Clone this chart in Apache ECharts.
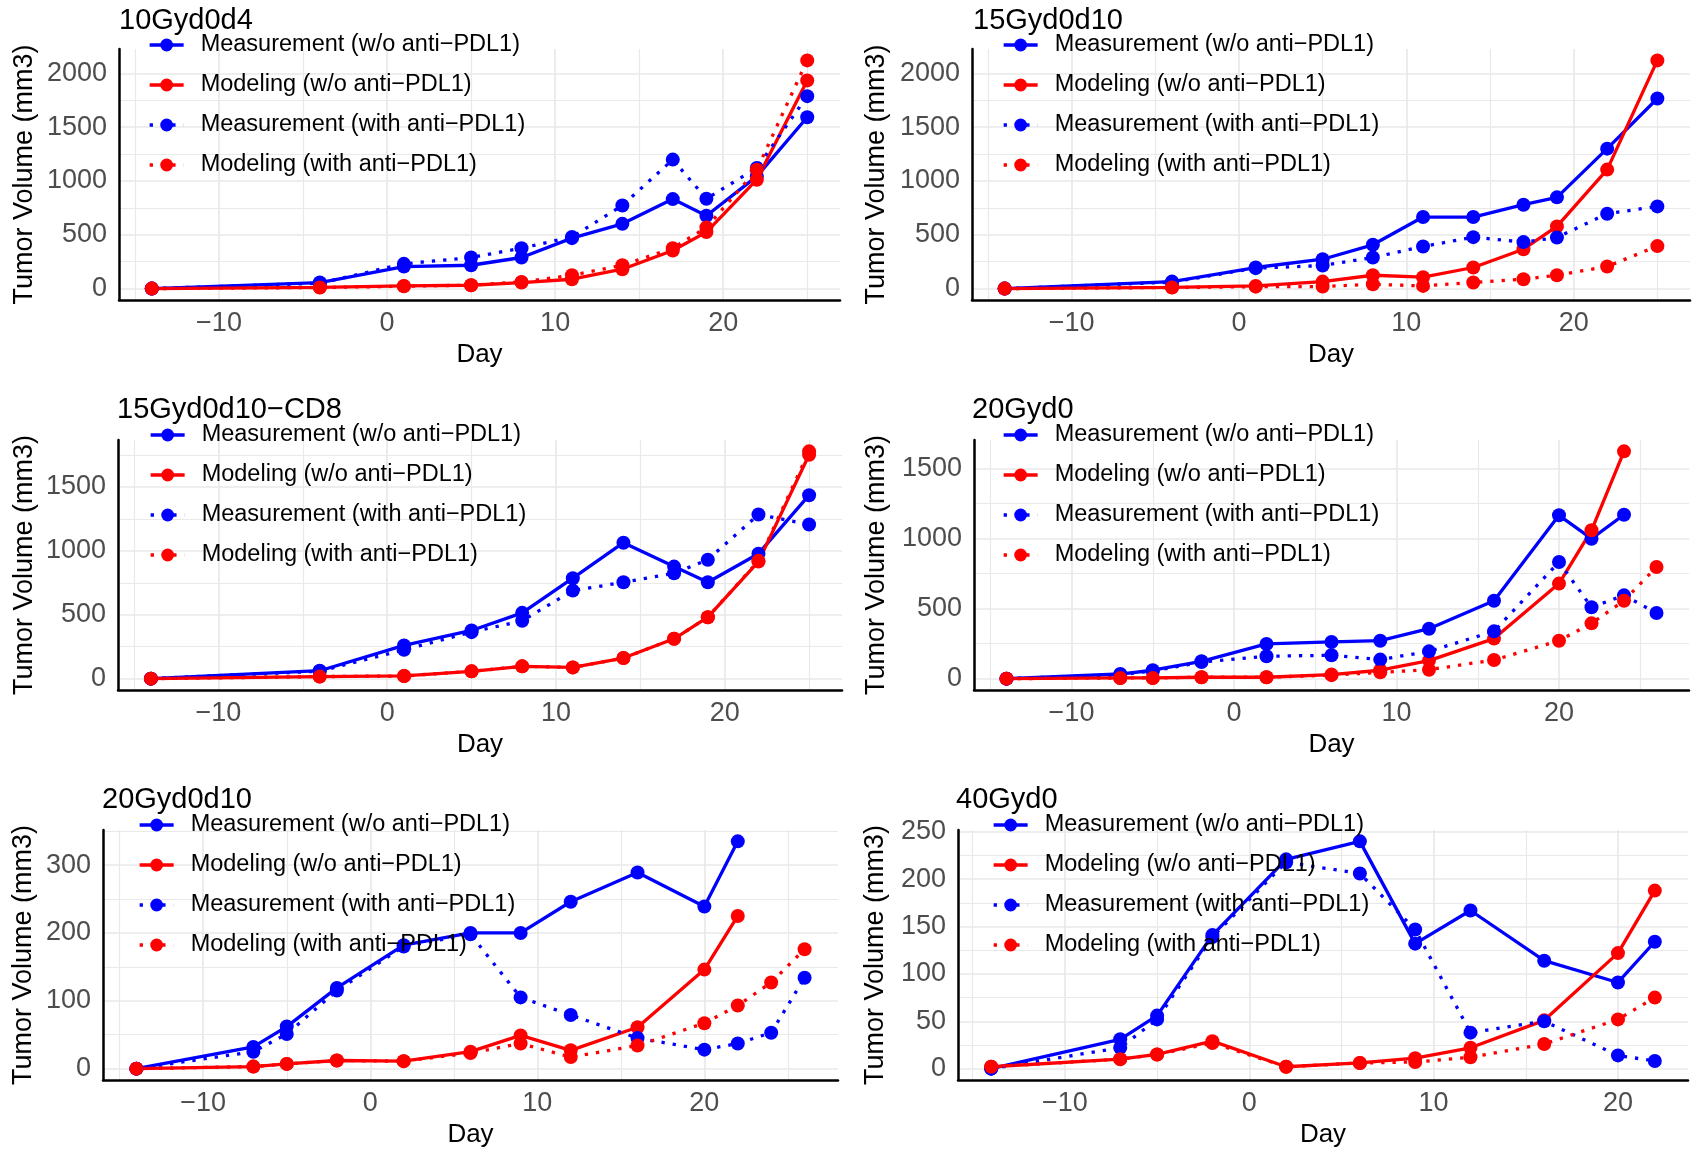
<!DOCTYPE html>
<html>
<head>
<meta charset="utf-8">
<title>Tumor volume panels</title>
<script src="https://cdn.jsdelivr.net/npm/echarts@6/dist/echarts.min.js"></script>
<style>
  html, body { margin: 0; padding: 0; background: #fff; }
  #chart { width: 1702px; height: 1159px; }
</style>
</head>
<body>
<div id="chart"></div>
<script>
// series labels (legend order)
const seriesNames = [
  'Measurement (w/o anti\u2212PDL1)',
  'Modeling (w/o anti\u2212PDL1)',
  'Measurement (with anti\u2212PDL1)',
  'Modeling (with anti\u2212PDL1)'
];
const panelTitles = ['10Gyd0d4', '15Gyd0d10', '15Gyd0d10\u2212CD8', '20Gyd0', '20Gyd0d10', '40Gyd0'];

// days
const daysA = [-14, -4, 1, 5, 8, 11, 14, 17, 19, 22, 25];
const days20Gy = [-14, -7, -5, -2, 2, 6, 9, 12, 16, 20, 22, 24];
const days20GyLong = [-14, -7, -5, -2, 2, 6, 9, 12, 16, 20, 22, 24, 26];
const days20GyShort = [-14, -7, -5, -2, 2, 6, 9, 12, 16, 20, 22];
const days40Gy = [-14, -7, -5, -2, 2, 6, 9, 12, 16, 20, 22];

// 10Gyd0d4
const measWo1 = [0, 56, 205, 217, 289, 469, 602, 832, 677, 1043, 1593];
const modelWo1 = [0, 12, 25, 31, 56, 87, 180, 354, 525, 1012, 1935];
const measW1 = [0, 50, 230, 289, 376, 480, 773, 1199, 835, 1121, 1789];
const modelW1 = [0, 10, 22, 32, 62, 124, 217, 376, 568, 1105, 2121];

// 15Gyd0d10
const measWo2 = [0, 65, 196, 273, 407, 665, 665, 780, 848, 1301, 1767];
const modelWo2 = [0, 12, 25, 65, 124, 106, 196, 366, 578, 1106, 2121];
const measW2 = [0, 60, 190, 214, 289, 391, 478, 432, 475, 696, 764];
const modelW2 = [0, 10, 18, 19, 40, 25, 56, 87, 124, 205, 395];

// 15Gyd0d10-CD8
const measWo3 = [0, 62, 260, 377, 515, 786, 1064, 877, 754, 978, 1436];
const modelWo3 = [0, 16, 21, 57, 96, 88, 161, 312, 481, 916, 1753];
const measW3 = [0, 58, 226, 364, 453, 689, 754, 825, 931, 1285, 1207];
const modelW3 = [0, 16, 21, 57, 96, 88, 161, 312, 481, 922, 1779];

// 20Gyd0
const measWo4 = [0, 33, 60, 124, 248, 262, 271, 357, 557, 1167, 1000, 1171];
const modelWo4 = [0, 5, 5, 10, 10, 29, 60, 129, 286, 679, 1060, 1624];
const measW4 = [0, 28, 55, 118, 160, 167, 136, 195, 338, 833, 510, 595, 469];
const modelW4 = [0, 5, 5, 10, 10, 25, 45, 64, 133, 271, 395, 557, 798];

// 20Gyd0d10
const measWo5 = [0, 32, 62, 119, 182, 200, 200, 246, 289, 239, 335];
const modelWo5 = [0, 3, 7, 12, 11, 25, 49, 27, 61, 146, 225];
const measW5 = [0, 25, 51, 115, 180, 198, 105, 79, 45, 28, 37, 53, 134];
const modelW5 = [0, 3, 7, 12, 11, 23, 37, 17, 34, 67, 93, 127, 176];

// 40Gyd0
const measWo6 = [0, 31, 56, 141, 221, 240, 132, 167, 114, 91, 134];
const modelWo6 = [2, 10, 15, 29, 2, 6, 11, 22, 51, 122, 188];
const measW6 = [0, 22, 52, 139, 218, 206, 147, 38, 50, 14, 8];
const modelW6 = [2, 10, 15, 27, 2, 6, 7, 12, 26, 52, 75];

// tick labels
const xTicks = [-10, 0, 10, 20];
const yTicks2000 = [0, 500, 1000, 1500, 2000];
const yTicks1500 = [0, 500, 1000, 1500];
const yTicks300 = [0, 100, 200, 300];
const yTicks250 = [0, 50, 100, 150, 200, 250];

const panelSeries = [
  [[daysA, measWo1], [daysA, modelWo1], [daysA, measW1], [daysA, modelW1]],
  [[daysA, measWo2], [daysA, modelWo2], [daysA, measW2], [daysA, modelW2]],
  [[daysA, measWo3], [daysA, modelWo3], [daysA, measW3], [daysA, modelW3]],
  [[days20Gy, measWo4], [days20Gy, modelWo4], [days20GyLong, measW4], [days20GyLong, modelW4]],
  [[days20GyShort, measWo5], [days20GyShort, modelWo5], [days20GyLong, measW5], [days20GyLong, modelW5]],
  [[days40Gy, measWo6], [days40Gy, modelWo6], [days40Gy, measW6], [days40Gy, modelW6]]
];
const panelYTicks = [yTicks2000, yTicks2000, yTicks1500, yTicks1500, yTicks300, yTicks250];

// layout (pixels): grid [left, top, width, height], title [left, top], legend [left, top], y name gap
const layout = [
  { grid: [119, 49, 721, 251], title: [119, 6], legend: [148, 33], yGap: 81 },
  { grid: [972, 49, 718, 251], title: [973, 6], legend: [1002, 33], yGap: 82 },
  { grid: [118, 440, 724, 250], title: [117, 395], legend: [149, 423], yGap: 80 },
  { grid: [974, 440, 715, 250], title: [972, 395], legend: [1002, 423], yGap: 84 },
  { grid: [103, 830, 735, 250], title: [102, 785], legend: [138, 813], yGap: 66 },
  { grid: [958, 830, 730, 250], title: [956, 785], legend: [992, 813], yGap: 69 }
];

const colors = ['#0000ff', '#ff0000', '#0000ff', '#ff0000'];
const dotted = [false, false, true, true];
const font = 'Liberation Sans, Arial, sans-serif';
const minus = v => String(v).replace('-', '\u2212');

const chart = echarts.init(document.getElementById('chart'), null, { renderer: 'canvas' });

const option = {
  backgroundColor: '#ffffff',
  animation: false,
  textStyle: { fontFamily: font },
  title: [], legend: [], grid: [], xAxis: [], yAxis: [], series: []
};

panelSeries.forEach((lines, i) => {
  const lay = layout[i];
  const allDays = [].concat(...lines.map(l => l[0]));
  const allVals = [].concat(...lines.map(l => l[1]));
  // ggplot-like 5% expansion
  const dMin = Math.min(...allDays), dMax = Math.max(...allDays);
  const vMin = Math.min(...allVals), vMax = Math.max(...allVals);
  const xMin = dMin - 0.05 * (dMax - dMin), xMax = dMax + 0.05 * (dMax - dMin);
  const yMin = vMin - 0.05 * (vMax - vMin), yMax = vMax + 0.05 * (vMax - vMin);
  const yTicks = panelYTicks[i];

  option.grid.push({ left: lay.grid[0], top: lay.grid[1], width: lay.grid[2], height: lay.grid[3], containLabel: false });
  option.title.push({
    text: panelTitles[i], left: lay.title[0], top: lay.title[1], padding: 0,
    textStyle: { fontSize: 29, lineHeight: 29, fontWeight: 'normal', color: '#000', fontFamily: font }
  });
  option.legend.push({
    data: seriesNames, orient: 'vertical', left: lay.legend[0], top: lay.legend[1], padding: 0,
    itemWidth: 34, itemHeight: 16, itemGap: 16, selectedMode: false,
    lineStyle: { width: 3.3 },
    textStyle: { fontSize: 23.5, lineHeight: 24, color: '#000', fontFamily: font, padding: [0, 0, 0, 12] }
  });
  option.xAxis.push({
    type: 'value', gridIndex: i, min: xMin, max: xMax,
    name: 'Day', nameLocation: 'middle', nameGap: 42,
    nameTextStyle: { fontSize: 26, color: '#000', fontFamily: font },
    axisLine: { onZero: false, lineStyle: { color: '#000', width: 2.5 } },
    axisTick: { show: false }, splitLine: { show: false },
    axisLabel: { customValues: xTicks, formatter: minus, fontSize: 27, color: '#4d4d4d', margin: 10, fontFamily: font }
  });
  option.yAxis.push({
    type: 'value', gridIndex: i, min: yMin, max: yMax,
    name: 'Tumor Volume (mm3)', nameLocation: 'middle', nameGap: lay.yGap,
    nameTextStyle: { fontSize: 27, color: '#000', fontFamily: font },
    axisLine: { onZero: false, lineStyle: { color: '#000', width: 2.5 } },
    axisTick: { show: false }, splitLine: { show: false },
    axisLabel: { customValues: yTicks, formatter: v => String(v), fontSize: 27, color: '#4d4d4d', margin: 12, fontFamily: font }
  });

  // grid lines: majors at tick labels, minors halfway between
  const gridData = [];
  const xStep = xTicks[1] - xTicks[0];
  for (let v = xTicks[0] - xStep / 2; v <= xMax; v += xStep / 2) {
    if (v < xMin) continue;
    const major = xTicks.includes(v);
    gridData.push({ xAxis: v, lineStyle: { color: '#e9e9e9', width: major ? 1.7 : 1.2, type: 'solid' } });
  }
  const yStep = yTicks[1] - yTicks[0];
  for (let v = yTicks[0]; v <= yMax; v += yStep / 2) {
    const major = yTicks.includes(v);
    gridData.push({ yAxis: v, lineStyle: { color: '#e9e9e9', width: major ? 1.7 : 1.2, type: 'solid' } });
  }
  option.series.push({
    type: 'line', name: 'grid' + i, xAxisIndex: i, yAxisIndex: i, data: [], silent: true, z: 0,
    markLine: { silent: true, symbol: ['none', 'none'], z: 0, animation: false, label: { show: false }, emphasis: { disabled: true }, data: gridData }
  });

  lines.forEach((l, k) => {
    option.series.push({
      name: seriesNames[k], type: 'line', xAxisIndex: i, yAxisIndex: i,
      data: l[0].map((d, j) => [d, l[1][j]]),
      symbol: 'circle', symbolSize: 14, showAllSymbol: true, z: 3,
      itemStyle: { color: colors[k] },
      lineStyle: { color: colors[k], width: 3.3, type: dotted[k] ? [3.3, 8] : 'solid' },
      emphasis: { disabled: true }
    });
  });
});

chart.setOption(option);
</script>
</body>
</html>
